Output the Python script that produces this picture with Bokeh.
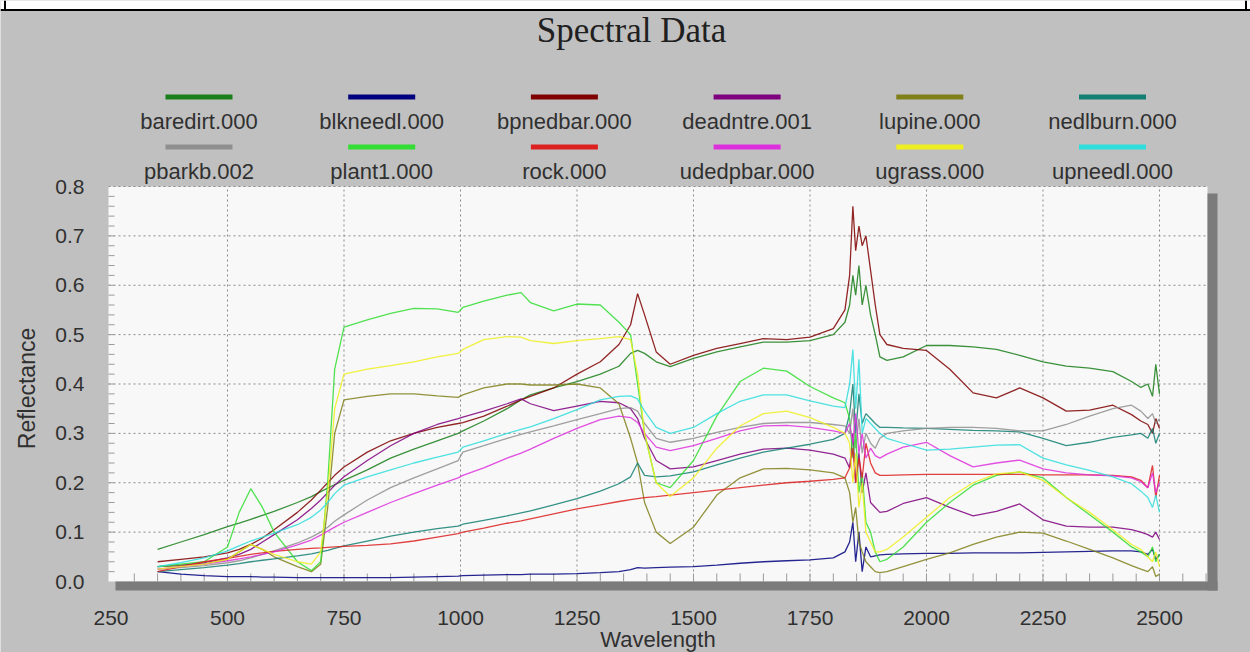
import numpy as np
from bokeh.plotting import figure
from bokeh.models import Range1d, FixedTicker, NumeralTickFormatter, ColumnDataSource
from bokeh.core.properties import value
from bokeh.embed import file_html
from bokeh.resources import INLINE

# ---------------- data ----------------
WAVELENGTH = [350, 400, 450, 500, 525, 550, 575, 600, 650, 680,
              700, 715, 730, 750, 800, 850, 900, 950, 995, 1005,
              1050, 1100, 1130, 1150, 1200, 1250, 1300, 1340, 1365, 1380,
              1395, 1420, 1450, 1500, 1550, 1600, 1650, 1700, 1750, 1800,
              1825, 1835, 1842, 1848, 1855, 1862, 1870, 1880, 1890, 1900,
              1915, 1950, 2000, 2050, 2100, 2150, 2200, 2250, 2300, 2350,
              2400, 2440, 2460, 2475, 2485, 2492, 2500]

BAREDIRT = [.065, .080, .095, .111, .118, .126, .134, .142, .160, .172,
            .182, .189, .196, .205, .226, .250, .268, .285, .300, .305,
            .325, .350, .368, .378, .392, .405, .420, .436, .462, .468,
            .462, .445, .435, .452, .465, .475, .485, .485, .488, .500,
            .525, .560, .620, .580, .640, .560, .600, .540, .500, .455,
            .448, .455, .478, .478, .475, .470, .458, .445, .436, .432,
            .425, .405, .393, .400, .375, .440, .380]

BLKNEEDL = [.020, .015, .012, .010, .010, .010, .009, .009, .008, .008,
            .008, .008, .008, .008, .008, .008, .009, .010, .011, .012,
            .013, .014, .014, .015, .015, .016, .018, .020, .024, .028,
            .027, .028, .029, .030, .033, .037, .040, .042, .044, .048,
            .060, .080, .120, .040, .100, .020, .070, .050, .052, .054,
            .055, .056, .057, .057, .058, .058, .058, .059, .060, .061,
            .062, .062, .060, .055, .065, .045, .055]

BPNEDBAR = [.040, .045, .050, .058, .065, .075, .088, .105, .140, .165,
            .185, .200, .215, .232, .262, .285, .300, .312, .320, .322,
            .335, .355, .368, .375, .392, .420, .445, .480, .520, .583,
            .540, .465, .440, .458, .472, .482, .492, .490, .495, .512,
            .550, .620, .760, .670, .720, .680, .700, .630, .560, .500,
            .480, .472, .468, .430, .382, .372, .392, .372, .345, .347,
            .357, .338, .325, .318, .300, .330, .310]

DEADNTRE = [.030, .033, .038, .048, .055, .065, .080, .095, .125, .148,
            .165, .180, .195, .212, .245, .275, .300, .318, .330, .333,
            .345, .360, .370, .360, .346, .355, .365, .362, .350, .330,
            .290, .245, .228, .232, .245, .258, .268, .270, .266, .258,
            .250, .230, .300, .200, .260, .180, .220, .160, .150, .140,
            .142, .158, .170, .150, .133, .142, .157, .125, .112, .110,
            .110, .105, .100, .095, .090, .100, .085]

LUPINE = [.030, .032, .035, .045, .060, .075, .065, .050, .030, .020,
          .035, .150, .300, .368, .375, .380, .380, .376, .373, .378,
          .392, .400, .400, .398, .398, .400, .392, .360, .290, .240,
          .160, .100, .077, .110, .175, .210, .228, .229, .226, .220,
          .210, .180, .120, .150, .080, .060, .040, .030, .020, .018,
          .020, .030, .045, .058, .075, .090, .100, .098, .082, .065,
          .048, .032, .025, .020, .030, .010, .015]

NEDLBURN = [.020, .024, .028, .033, .036, .040, .043, .046, .052, .056,
            .060, .063, .067, .072, .082, .092, .100, .107, .112, .116,
            .124, .133, .139, .143, .155, .168, .183, .198, .212, .240,
            .215, .212, .214, .222, .236, .250, .262, .270, .278, .288,
            .300, .340, .400, .300, .380, .320, .340, .330, .320, .312,
            .312, .311, .310, .308, .306, .305, .303, .290, .275, .282,
            .292, .297, .300, .290, .310, .280, .300]

PBARKB = [.025, .028, .032, .038, .042, .048, .055, .062, .078, .090,
          .100, .110, .122, .135, .165, .190, .210, .228, .245, .262,
          .275, .290, .298, .303, .315, .328, .340, .350, .352, .345,
          .320, .290, .282, .290, .302, .312, .320, .322, .322, .318,
          .315, .300, .350, .270, .330, .260, .300, .280, .270, .290,
          .300, .305, .310, .312, .312, .310, .305, .305, .318, .335,
          .350, .357, .345, .330, .340, .320, .330]

PLANT1 = [.030, .035, .040, .070, .140, .188, .150, .100, .040, .022,
          .040, .200, .430, .515, .530, .543, .553, .552, .545, .555,
          .568, .580, .585, .565, .548, .562, .560, .525, .500, .400,
          .300, .200, .190, .245, .335, .405, .432, .426, .395, .372,
          .362, .330, .250, .300, .180, .220, .120, .100, .060, .040,
          .045, .070, .120, .160, .195, .215, .222, .210, .170, .135,
          .100, .070, .060, .050, .070, .040, .055]

ROCK = [.020, .030, .040, .047, .051, .055, .058, .061, .065, .067,
        .068, .069, .070, .071, .073, .076, .082, .090, .097, .100,
        .108, .118, .123, .127, .137, .147, .155, .162, .166, .168,
        .170, .172, .175, .180, .185, .190, .195, .200, .203, .207,
        .210, .230, .270, .200, .250, .210, .280, .240, .220, .215,
        .215, .216, .217, .217, .217, .217, .217, .216, .216, .216,
        .215, .212, .205, .190, .235, .170, .215]

UDEDPBAR = [.025, .030, .035, .042, .046, .050, .055, .060, .074, .084,
            .094, .102, .110, .120, .140, .160, .178, .195, .210, .215,
            .230, .250, .260, .268, .290, .310, .328, .335, .332, .322,
            .300, .272, .265, .275, .290, .305, .315, .316, .312, .305,
            .300, .320, .280, .340, .260, .300, .250, .270, .255, .250,
            .258, .272, .282, .255, .232, .240, .246, .228, .220, .216,
            .214, .210, .202, .190, .220, .180, .200]

UGRASS = [.025, .030, .035, .045, .060, .075, .065, .055, .040, .035,
          .060, .180, .350, .420, .430, .437, .445, .455, .462, .470,
          .490, .496, .495, .488, .482, .488, .492, .496, .490, .420,
          .300, .200, .172, .210, .270, .315, .340, .345, .332, .312,
          .300, .280, .200, .260, .150, .200, .100, .080, .060, .060,
          .065, .090, .130, .170, .200, .218, .222, .205, .170, .140,
          .105, .075, .065, .050, .040, .060, .030]

UPNEEDL = [.030, .038, .048, .062, .072, .082, .090, .098, .115, .130,
           .145, .160, .178, .195, .212, .226, .240, .252, .262, .272,
           .285, .300, .308, .313, .330, .348, .368, .375, .376, .370,
           .345, .312, .300, .312, .340, .365, .378, .378, .366, .355,
           .352, .400, .470, .350, .450, .300, .330, .320, .310, .300,
           .290, .280, .266, .268, .272, .276, .277, .250, .236, .225,
           .212, .198, .183, .170, .150, .175, .140]

SERIES_NAMES = ["baredirt.000", "blkneedl.000", "bpnedbar.000", "deadntre.001",
                "lupine.000", "nedlburn.000", "pbarkb.002", "plant1.000",
                "rock.000", "udedpbar.000", "ugrass.000", "upneedl.000"]
SERIES_VALUES = [BAREDIRT, BLKNEEDL, BPNEDBAR, DEADNTRE, LUPINE, NEDLBURN,
                 PBARKB, PLANT1, ROCK, UDEDPBAR, UGRASS, UPNEEDL]
SERIES_COLORS = ["#1a7f1a", "#00007f", "#7f0000", "#7f007f", "#80801a", "#127f72",
                 "#8f8f8f", "#33dd33", "#dd2020", "#dd30dd", "#eeee20", "#30dddd"]

X_TICKS = [250, 500, 750, 1000, 1250, 1500, 1750, 2000, 2250, 2500]
Y_TICKS = [0.0, 0.1, 0.2, 0.3, 0.4, 0.5, 0.6, 0.7, 0.8]

# ---------------- geometry (pixels of the reference picture) ----------------
def nm_at(px):
    return 500 + (px - 227) / 0.466

def val_at(py):
    return (581 - py) / 493.75

CW, CH = 1250, 652
PL, PR, PT, PB = 108, 1207, 186, 581   # white plot area

GRAY_BG = "#c0c0c0"
TEXT = "#303030"
FONT = "Liberation Sans"

p = figure(width=CW, height=CH, output_backend="svg", toolbar_location=None,
           x_range=Range1d(nm_at(0), nm_at(CW)),
           y_range=Range1d(val_at(CH), val_at(0)),
           min_border=0, background_fill_color=GRAY_BG, border_fill_color=GRAY_BG,
           outline_line_color=None)
p.title.visible = False
p.xgrid.visible = False
p.ygrid.visible = False

# window strip at the top
p.quad(left=[nm_at(0)], right=[nm_at(CW)], bottom=[val_at(9.5)], top=[val_at(0)],
       fill_color="white", line_color=None)
p.segment(x0=[nm_at(0), nm_at(4.5), nm_at(1245.5)], x1=[nm_at(CW), nm_at(4.5), nm_at(1245.5)],
          y0=[val_at(9.5), val_at(0), val_at(0)], y1=[val_at(9.5), val_at(10), val_at(10)],
          line_color="black", line_width=2)

# white plotting area and its 3-D shadow
p.quad(left=[nm_at(PL)], right=[nm_at(PR)], bottom=[0], top=[0.8],
       fill_color="#f8f8f8", line_color=None)
p.quad(left=[nm_at(115), nm_at(PR)], right=[nm_at(1217), nm_at(1217)],
       bottom=[val_at(590), val_at(590)], top=[0, val_at(193)],
       fill_color="#7b7b7b", line_color=None)

# dotted grid
xg = [t for t in X_TICKS if t > 400]
p.segment(x0=xg, x1=xg, y0=[0] * len(xg), y1=[0.8] * len(xg),
          line_color="#8a8a8a", line_width=1, line_dash="2 3")
yg = [t for t in Y_TICKS if t > 0]
p.segment(x0=[nm_at(PL)] * len(yg), x1=[nm_at(PR)] * len(yg), y0=yg, y1=yg,
          line_color="#8a8a8a", line_width=1, line_dash="2 3")

# small inward ticks
mx = np.arange(300, 2601, 50)
p.segment(x0=mx, x1=mx, y0=np.zeros(len(mx)), y1=np.full(len(mx), 8 / 493.75),
          line_color="#9a9a9a", line_width=1)
my = np.arange(0.02, 0.8, 0.02)
p.segment(x0=np.full(len(my), nm_at(PL)), x1=np.full(len(my), nm_at(PL + 6)), y0=my, y1=my,
          line_color="#9a9a9a", line_width=1)

# spectra
for name, vals, col in zip(SERIES_NAMES, SERIES_VALUES, SERIES_COLORS):
    src = ColumnDataSource(dict(x=WAVELENGTH, y=vals))
    p.line("x", "y", source=src, line_color=col, line_width=1.3, line_alpha=0.85)

# legend (2 rows x 6 columns, sample line above the label)
col_px = [198.5 + 182.7 * i for i in range(6)]
for i, (name, col) in enumerate(zip(SERIES_NAMES, SERIES_COLORS)):
    r, c = divmod(i, 6)
    cx = col_px[c]
    ly = 96.5 + 50 * r
    ty = 120.5 + 50.5 * r
    p.segment(x0=[nm_at(cx - 33.5)], x1=[nm_at(cx + 33.5)], y0=[val_at(ly)], y1=[val_at(ly)],
              line_color=col, line_width=5)
    p.text(x=[nm_at(cx)], y=[val_at(ty)], text=[name], text_align="center",
           text_baseline="middle", text_font=value(FONT), text_font_size="22px",
           text_color=TEXT)

# title
p.text(x=[nm_at(631)], y=[val_at(30)], text=["Spectral Data"], text_align="center",
       text_baseline="middle", text_font=value("Liberation Serif"), text_font_size="35px",
       text_color="#202020")

# axes at fixed locations (frame covers the whole canvas)
p.xaxis.fixed_location = 0.0
p.xaxis.bounds = (nm_at(PL), nm_at(PR))
p.xaxis.ticker = FixedTicker(ticks=X_TICKS)
p.xaxis.axis_label = "Wavelength"
p.yaxis.fixed_location = nm_at(PL)
p.yaxis.bounds = (val_at(590), 0.8)
p.yaxis.ticker = FixedTicker(ticks=Y_TICKS)
p.yaxis.formatter = NumeralTickFormatter(format="0.0")
p.yaxis.axis_label = "Reflectance"
for ax in (p.xaxis[0], p.yaxis[0]):
    ax.axis_line_color = None
    ax.major_tick_line_color = None
    ax.minor_tick_line_color = None
    ax.major_label_text_font = FONT
    ax.major_label_text_font_size = "21px"
    ax.major_label_text_color = TEXT
    ax.axis_label_text_font = FONT
    ax.axis_label_text_font_style = "normal"
    ax.axis_label_text_color = TEXT
p.xaxis.axis_label_text_font_size = "22px"
p.yaxis.axis_label_text_font_size = "23px"
p.xaxis.major_label_standoff = 23
p.xaxis.axis_label_standoff = -1
p.yaxis.major_label_standoff = 18
p.yaxis.axis_label_standoff = 12

open("out.html", "w").write(file_html(p, INLINE))
